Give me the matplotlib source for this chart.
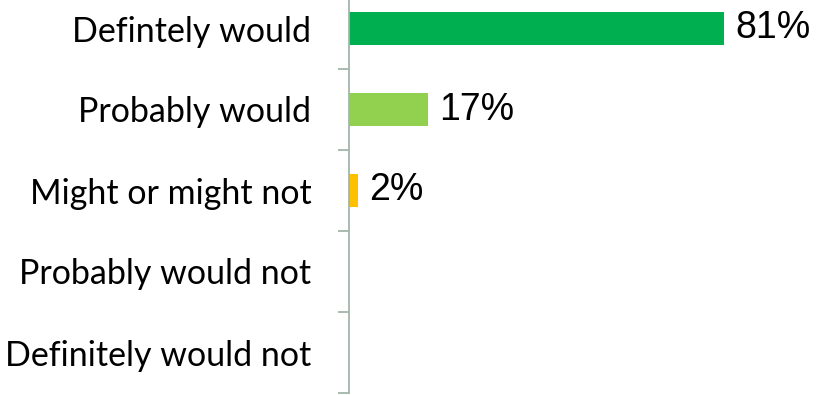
import matplotlib.pyplot as plt

# Likelihood-to-recommend responses, top answer first
categories = ["Defintely would", "Probably would", "Might or might not",
              "Probably would not", "Definitely would not"]
shares = [81, 17, 2, 0, 0]
labels = ["81%", "17%", "2%", "", ""]
colors = ["#00B050", "#92D050", "#FFC000", "#FFC000", "#FFC000"]

axis_color = "#A3B5AA"

fig = plt.figure(figsize=(8.17, 3.95), dpi=100)
ax = fig.add_axes([349 / 817, 2 / 395, 463 / 817, 405 / 395])

pos = list(range(len(categories)))
ax.barh(pos, shares, height=0.4, color=colors)

for y, v, lab in zip(pos, shares, labels):
    if lab:
        ax.annotate(lab, (v, y), xytext=(8, 0), textcoords="offset points",
                    va="center", ha="left", fontsize=27,
                    family="Liberation Sans")

ax.set_xlim(0, 100)
ax.set_ylim(len(categories) - 0.5, -0.5)

# boundaries get the tick marks, category names sit between them
ax.set_yticks([p + 0.5 for p in pos])
ax.set_yticklabels([])
ax.set_yticks(pos, minor=True)
ax.set_yticklabels(categories, minor=True, fontsize=24.5, family="Lato")
ax.tick_params(axis="y", which="major", direction="out", length=8,
               width=1.3, color=axis_color)
ax.tick_params(axis="y", which="minor", length=0, pad=27)
ax.set_xticks([])

for side in ["top", "right", "bottom"]:
    ax.spines[side].set_visible(False)
ax.spines["left"].set_color(axis_color)
ax.spines["left"].set_linewidth(1.3)

fig.savefig("out.png", dpi=100)
